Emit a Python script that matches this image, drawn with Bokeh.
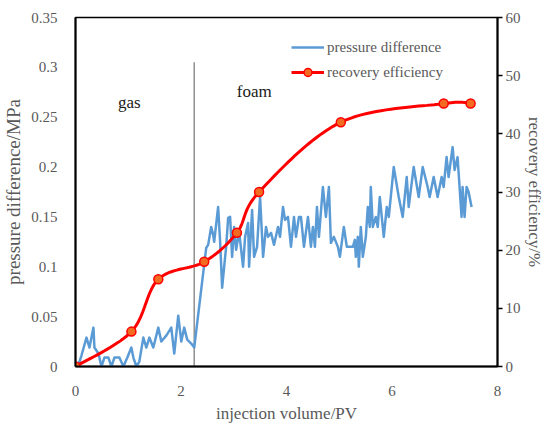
import numpy as np
from bokeh.plotting import figure
from bokeh.models import Range1d, LinearAxis, FixedTicker, Legend, LegendItem
from bokeh.core.properties import value
from bokeh.embed import file_html
from bokeh.resources import INLINE

# ---------------- data ----------------
pv_pressure = [0.00, 0.076, 0.113, 0.208, 0.265, 0.340, 0.359, 0.435, 0.492, 0.548,
               0.624, 0.681, 0.738, 0.832, 0.908, 0.983, 1.059, 1.097, 1.154, 1.210,
               1.286, 1.343, 1.400, 1.475, 1.570, 1.626, 1.721, 1.816, 1.872, 1.948,
               2.005, 2.061, 2.118, 2.194, 2.251, 2.478, 2.515, 2.572, 2.610, 2.629,
               2.704, 2.742, 2.780, 2.818, 2.856, 2.894, 2.931, 2.969, 3.007, 3.045,
               3.102, 3.177, 3.215, 3.272, 3.291, 3.348, 3.385, 3.442, 3.499, 3.556,
               3.612, 3.650, 3.707, 3.764, 3.839, 3.877, 3.934, 3.972, 4.028, 4.085,
               4.142, 4.180, 4.236, 4.274, 4.331, 4.407, 4.463, 4.501, 4.539, 4.577,
               4.615, 4.690, 4.747, 4.804, 4.842, 4.898, 4.974, 5.012, 5.087, 5.144,
               5.258, 5.296, 5.314, 5.352, 5.371, 5.409, 5.447, 5.504, 5.541, 5.579,
               5.598, 5.636, 5.693, 5.730, 5.768, 5.844, 5.901, 5.939, 6.033, 6.128,
               6.203, 6.279, 6.317, 6.411, 6.506, 6.582, 6.676, 6.714, 6.790, 6.865,
               6.941, 6.979, 7.035, 7.073, 7.149, 7.187, 7.243, 7.281, 7.319, 7.338,
               7.376, 7.414, 7.452, 7.509]
pressure_mpa = [0.000, 0.005, 0.011, 0.029, 0.019, 0.039, 0.019, 0.013, 0.000, 0.009,
                0.009, 0.000, 0.009, 0.009, 0.000, 0.009, 0.019, 0.009, 0.000, 0.005,
                0.029, 0.019, 0.029, 0.019, 0.039, 0.025, 0.031, 0.039, 0.013, 0.051,
                0.025, 0.039, 0.027, 0.023, 0.019, 0.119, 0.122, 0.140, 0.132, 0.125,
                0.160, 0.125, 0.079, 0.100, 0.120, 0.149, 0.150, 0.110, 0.140, 0.117,
                0.135, 0.100, 0.130, 0.144, 0.100, 0.157, 0.110, 0.120, 0.170, 0.110,
                0.140, 0.130, 0.134, 0.122, 0.140, 0.130, 0.160, 0.147, 0.150, 0.120,
                0.150, 0.130, 0.150, 0.150, 0.120, 0.150, 0.120, 0.140, 0.120, 0.160,
                0.130, 0.180, 0.150, 0.180, 0.124, 0.130, 0.120, 0.110, 0.140, 0.120,
                0.120, 0.127, 0.110, 0.130, 0.100, 0.140, 0.110, 0.130, 0.160, 0.140,
                0.180, 0.140, 0.150, 0.140, 0.170, 0.130, 0.160, 0.150, 0.200, 0.170,
                0.150, 0.190, 0.160, 0.200, 0.170, 0.200, 0.180, 0.170, 0.190, 0.170,
                0.190, 0.180, 0.210, 0.190, 0.220, 0.197, 0.210, 0.180, 0.150, 0.180,
                0.150, 0.180, 0.175, 0.160]

pv_recovery = [0.00, 1.06, 1.57, 2.44, 3.06, 3.48, 5.03, 6.98, 7.49]
recovery_pct = [0.0, 6.0, 15.0, 18.0, 23.0, 30.0, 42.0, 45.2, 45.2]

x_ticks = [0, 2, 4, 6, 8]
p_ticks = [0, 0.05, 0.1, 0.15, 0.2, 0.25, 0.3, 0.35]
p_tick_labels = ["0", "0.05", "0.1", "0.15", "0.2", "0.25", "0.3", "0.35"]
r_ticks = [0, 10, 20, 30, 40, 50, 60]

series_names = ["pressure difference", "recovery efficiency"]
phase_names = ["gas", "foam"]
gas_foam_boundary_pv = 2.25

# ---------------- styles ----------------
SERIF = "Liberation Serif"
TICK_FONT = "'Liberation Serif', 'Times New Roman', serif"
GRAY = "#595959"
BLUE = "#5B9BD5"
RED = "#FF0000"


def smooth(xs, ys, sx, sy, n=24):
    """Catmull-Rom smoothing through the data points (in screen-like units)."""
    P = np.column_stack([np.asarray(xs) * sx, np.asarray(ys) * sy])
    P = np.vstack([P[0], P, P[-1]])
    out = []
    for i in range(1, len(P) - 2):
        p0, p1, p2, p3 = P[i - 1], P[i], P[i + 1], P[i + 2]
        for t in np.linspace(0, 1, n, endpoint=(i == len(P) - 3)):
            t2, t3 = t * t, t * t * t
            pt = 0.5 * ((2 * p1) + (-p0 + p2) * t + (2 * p0 - 5 * p1 + 4 * p2 - p3) * t2
                        + (-p0 + 3 * p1 - 3 * p2 + p3) * t3)
            out.append(pt)
    out = np.array(out)
    return out[:, 0] / sx, out[:, 1] / sy


p = figure(width=547, height=425, output_backend="svg", toolbar_location=None,
           x_range=Range1d(0, 8), y_range=Range1d(0, 0.35),
           min_border_left=73, min_border_top=17, min_border_right=50, min_border_bottom=59)
p.extra_y_ranges = {"rec": Range1d(0, 60)}
p.grid.visible = False
p.outline_line_color = "black"
p.outline_line_width = 1.5
p.background_fill_color = "white"
p.border_fill_color = "white"

# x axis
xa = p.xaxis[0]
xa.ticker = FixedTicker(ticks=x_ticks)
xa.axis_label = "injection volume/PV"
# left axis
ya = p.yaxis[0]
ya.ticker = FixedTicker(ticks=p_ticks)
ya.major_label_overrides = {t: l for t, l in zip(p_ticks, p_tick_labels)}
ya.axis_label = "pressure difference/MPa"
# right axis
ra = LinearAxis(y_range_name="rec", ticker=FixedTicker(ticks=r_ticks),
                axis_label="recovery efficiency/%")
p.add_layout(ra, "right")

for ax in (xa, ya, ra):
    ax.axis_line_color = "black"
    ax.axis_line_width = 2
    ax.minor_tick_line_color = None
    ax.major_label_text_font = TICK_FONT
    ax.major_label_text_font_size = "15px"
    ax.major_label_text_color = GRAY
    ax.axis_label_text_font = SERIF
    ax.axis_label_text_font_style = "normal"
    ax.axis_label_text_color = GRAY
    ax.axis_label_standoff = 4

xa.major_tick_line_color = None
xa.major_label_standoff = 13
xa.axis_label_text_font_size = "17px"
xa.axis_label_standoff = 5
ya.major_tick_line_color = None
ya.major_label_standoff = 12
ya.axis_label_text_font_size = "19px"
ra.major_tick_line_color = "black"
ra.major_tick_line_width = 1.5
ra.major_tick_out = 5
ra.major_tick_in = 0
ra.major_label_standoff = 3
ra.axis_label_text_font_size = "17px"
ra.axis_label_standoff = 1

# gas / foam boundary
p.segment(x0=[gas_foam_boundary_pv], y0=[0], x1=[gas_foam_boundary_pv], y1=[0.305],
          line_color="#7F7F7F", line_width=1.3)
p.text(x=[1.02, 3.39], y=[0.265, 0.276], text=phase_names, text_font=value(SERIF),
       text_font_size="17px", text_color="#1A1A1A", text_align="center",
       text_baseline="middle")

# series
blue = p.line(pv_pressure, pressure_mpa, line_color=BLUE, line_width=2.5,
              line_join="round")
sx_, sy_ = smooth(pv_recovery, recovery_pct, 52.9, 5.8)
red_line = p.line(sx_, sy_, line_color=RED, line_width=3, y_range_name="rec")
red_pts = p.scatter(pv_recovery, recovery_pct, size=9, marker="circle",
                    fill_color="#F26B21", line_color=RED, line_width=1.5,
                    y_range_name="rec")

legend = Legend(items=[LegendItem(label=series_names[0], renderers=[blue]),
                       LegendItem(label=series_names[1], renderers=[red_line, red_pts])],
                location=(211, 279))
legend.border_line_alpha = 0
legend.background_fill_alpha = 0
legend.label_text_font = SERIF
legend.label_text_font_size = "15px"
legend.label_text_color = GRAY
legend.glyph_width = 33
legend.glyph_height = 20
legend.label_height = 20
legend.spacing = 5
legend.padding = 5
legend.margin = 0
legend.label_standoff = 3
p.add_layout(legend)

open("out.html", "w").write(file_html(p, INLINE))
